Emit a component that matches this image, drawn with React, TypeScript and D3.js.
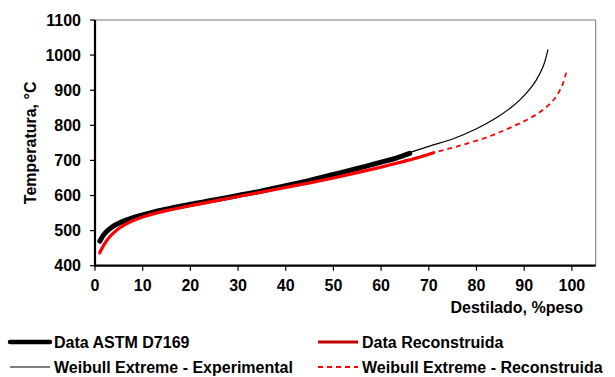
import React from "react";
import * as d3 from "d3";

// Distillation curves: % mass distilled vs temperature (°C)
const astmX = [1, 2, 3, 4, 5, 6, 8, 10, 12, 15, 20, 25, 30, 35, 40, 45, 50, 55, 60, 63, 66];
const astmT = [470, 491, 504, 514, 521, 527, 537, 545, 552, 561, 575, 587, 600, 613, 628, 643, 660, 677, 695, 706, 720];

const recX = [1, 2, 3, 4, 5, 6, 8, 10, 12, 15, 20, 25, 30, 35, 40, 45, 50, 55, 60, 65, 68, 71];
const recT = [437, 462, 481, 495, 506, 515, 529, 539, 547, 557, 571, 584, 597, 610, 623, 636, 650, 665, 681, 698, 709, 722];

const weibExpX = [1, 3, 5, 10, 20, 30, 40, 50, 60, 66, 70, 75, 80, 84, 87, 89, 91, 92.5, 94, 95];
const weibExpT = [473, 504, 521, 545, 575, 600, 628, 660, 695, 722, 740, 761, 790, 820, 848, 871, 900, 928, 968, 1016];

const weibRecX = [1, 3, 5, 10, 20, 30, 40, 50, 60, 71, 75, 78, 82, 85, 88, 90.5, 93, 95, 96.5, 97.5, 98.3, 98.8];
const weibRecT = [440, 481, 506, 539, 571, 597, 623, 650, 681, 722, 736, 748, 765, 781, 799, 815, 835, 856, 878, 900, 925, 950];

const xTicks = [0, 10, 20, 30, 40, 50, 60, 70, 80, 90, 100];
const yTicks = [400, 500, 600, 700, 800, 900, 1000, 1100];

const legendItems = [
  { label: "Data ASTM D7169", color: "#000000", width: 4.5, dash: "" },
  { label: "Data Reconstruida", color: "#c00000", width: 3, dash: "" },
  { label: "Weibull Extreme - Experimental", color: "#000000", width: 1.2, dash: "" },
  { label: "Weibull Extreme - Reconstruida", color: "#ff0000", width: 1.8, dash: "5,4" },
];

const FONT = "'Liberation Sans', Arial, sans-serif";

export default function App() {
  const W = 615;
  const H = 377;
  const left = 95;
  const right = 595.7;
  const top = 20;
  const bottom = 265.7;

  const x = d3.scaleLinear().domain([0, 105]).range([left, right]);
  const y = d3.scaleLinear().domain([400, 1100]).range([bottom, top]);

  const line = (xs: number[], ts: number[]) =>
    d3
      .line<number>()
      .x((_, i) => x(xs[i]))
      .y((_, i) => y(ts[i]))
      .curve(d3.curveCatmullRom.alpha(0.5))(xs.map((_, i) => i)) || "";

  const legendPos = [
    { lx: 10, ly: 342 },
    { lx: 318, ly: 342 },
    { lx: 10, ly: 367 },
    { lx: 318, ly: 367 },
  ];

  return (
    <svg
      width={W}
      height={H}
      style={{ position: "absolute", left: 0, top: 0, background: "#fff" }}
      fontFamily={FONT}
      fontWeight="bold"
    >
      {/* frame */}
      <line x1={left} x2={right} y1={top} y2={top} stroke="#777" strokeWidth={1} />
      <line x1={right} x2={right} y1={top} y2={bottom} stroke="#777" strokeWidth={1} />

      {/* curves */}
      <path d={line(astmX, astmT)} fill="none" stroke="#000" strokeWidth={5} strokeLinecap="round" />
      <path d={line(weibExpX, weibExpT)} fill="none" stroke="#000" strokeWidth={1.2} />
      <path d={line(recX, recT)} fill="none" stroke="#ff0000" strokeWidth={3.2} strokeLinecap="round" />
      <path d={line(weibRecX, weibRecT)} fill="none" stroke="#ff0000" strokeWidth={1.8} strokeDasharray="5,4" />

      {/* axes */}
      <line x1={left} x2={left} y1={top} y2={bottom + 1} stroke="#000" strokeWidth={2.2} />
      <line x1={left - 1} x2={right} y1={bottom} y2={bottom} stroke="#000" strokeWidth={2.2} />

      {yTicks.map((t) => (
        <g key={"y" + t}>
          <line x1={left - 5} x2={left} y1={y(t)} y2={y(t)} stroke="#000" strokeWidth={1.2} />
          <text x={left - 14} y={y(t)} textAnchor="end" dominantBaseline="central" fontSize={16}>
            {t}
          </text>
        </g>
      ))}
      {xTicks.map((t) => (
        <g key={"x" + t}>
          <line x1={x(t)} x2={x(t)} y1={bottom} y2={bottom + 5} stroke="#000" strokeWidth={1.2} />
          <text x={x(t)} y={291} textAnchor="middle" fontSize={16}>
            {t}
          </text>
        </g>
      ))}

      <text
        transform={`translate(36,${(top + bottom) / 2}) rotate(-90)`}
        textAnchor="middle"
        fontSize={16}
      >
        Temperatura, °C
      </text>
      <text x={583} y={313} textAnchor="end" fontSize={16}>
        Destilado, %peso
      </text>

      {/* legend */}
      {legendItems.map((it, i) => {
        const p = legendPos[i];
        return (
          <g key={it.label}>
            <line
              x1={p.lx}
              x2={p.lx + 40}
              y1={p.ly}
              y2={p.ly}
              stroke={it.color}
              strokeWidth={it.width}
              strokeDasharray={it.dash || undefined}
              strokeLinecap={i === 0 ? "round" : "butt"}
            />
            <text x={p.lx + 44} y={p.ly} dominantBaseline="central" fontSize={16}>
              {it.label}
            </text>
          </g>
        );
      })}
    </svg>
  );
}
